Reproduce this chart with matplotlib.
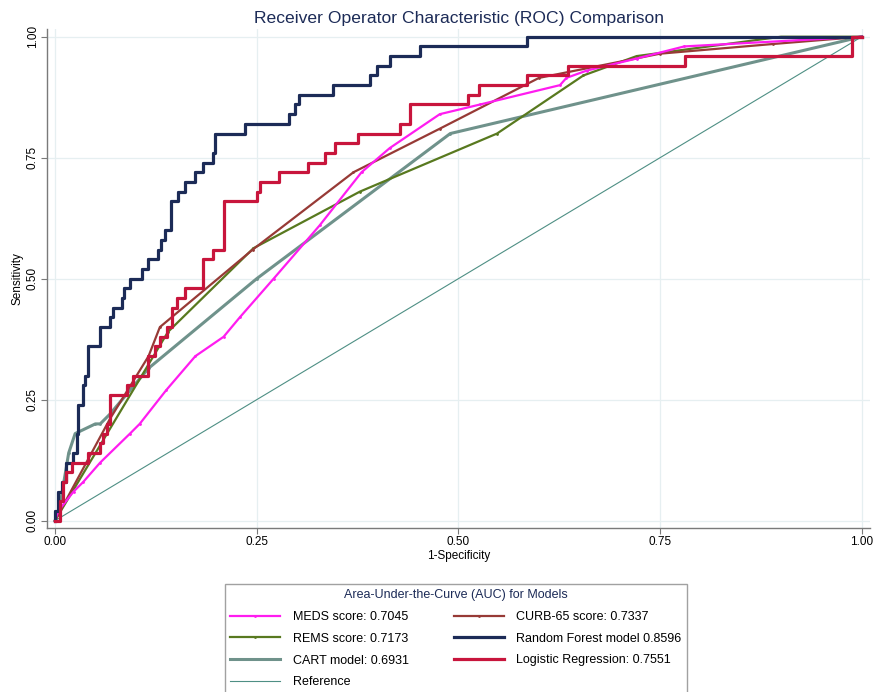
import matplotlib
matplotlib.use("Agg")
import matplotlib.pyplot as plt

plt.rcParams['font.family'] = ['Liberation Sans', 'DejaVu Sans']

# ROC points (1-specificity, sensitivity)
meds_fpr = [0, 0.004, 0.023, 0.035, 0.056, 0.093, 0.105, 0.138, 0.174, 0.209, 0.229, 0.271,
            0.328, 0.38, 0.415, 0.477, 0.527, 0.626, 0.634, 0.659, 0.721, 0.78, 1.0]
meds_tpr = [0, 0.02, 0.06, 0.08, 0.12, 0.18, 0.20, 0.27, 0.34, 0.38, 0.42, 0.50,
            0.61, 0.72, 0.77, 0.84, 0.86, 0.90, 0.915, 0.93, 0.955, 0.98, 1.0]

curb_fpr = [0, 0.068, 0.116, 0.13, 0.245, 0.37, 0.477, 0.60, 0.75, 0.89, 1.0]
curb_tpr = [0, 0.21, 0.34, 0.40, 0.56, 0.72, 0.81, 0.915, 0.965, 0.985, 1.0]

rems_fpr = [0, 0.14, 0.246, 0.378, 0.548, 0.655, 0.721, 0.90, 1.0]
rems_tpr = [0, 0.39, 0.563, 0.68, 0.80, 0.92, 0.96, 1.0, 1.0]

cart_fpr = [0, 0.005, 0.017, 0.025, 0.05, 0.056, 0.068, 0.116, 0.25, 0.49, 1.0]
cart_tpr = [0, 0.02, 0.14, 0.18, 0.20, 0.20, 0.22, 0.315, 0.50, 0.80, 1.0]

# step curves: x where each sensitivity level starts
rf_fpr = [0, 0, 0.004, 0.009, 0.014, 0.022, 0.027, 0.029, 0.035, 0.037, 0.041, 0.056,
          0.068, 0.072, 0.083, 0.085, 0.093, 0.108, 0.115, 0.128, 0.132, 0.136, 0.144,
          0.152, 0.161, 0.173, 0.183, 0.196, 0.198, 0.236, 0.290, 0.297, 0.302, 0.345,
          0.390, 0.399, 0.415, 0.453, 0.585, 1.0]
rf_tpr = [0, 0.02, 0.06, 0.08, 0.12, 0.14, 0.18, 0.24, 0.28, 0.30, 0.36, 0.40,
          0.42, 0.44, 0.46, 0.48, 0.50, 0.52, 0.54, 0.56, 0.58, 0.60, 0.66,
          0.68, 0.70, 0.72, 0.74, 0.76, 0.80, 0.82, 0.84, 0.86, 0.88, 0.90,
          0.92, 0.94, 0.96, 0.98, 1.00, 1.00]

lr_fpr = [0, 0.006, 0.010, 0.014, 0.021, 0.041, 0.056, 0.060, 0.064, 0.068, 0.089, 0.097,
          0.115, 0.124, 0.130, 0.139, 0.145, 0.151, 0.161, 0.184, 0.196, 0.209, 0.250,
          0.254, 0.278, 0.314, 0.335, 0.347, 0.376, 0.428, 0.440, 0.512, 0.526, 0.585,
          0.636, 0.781, 0.988, 1.0]
lr_tpr = [0, 0.04, 0.08, 0.10, 0.12, 0.14, 0.16, 0.18, 0.20, 0.26, 0.28, 0.30,
          0.34, 0.36, 0.38, 0.40, 0.44, 0.46, 0.48, 0.54, 0.56, 0.66, 0.68,
          0.70, 0.72, 0.74, 0.76, 0.78, 0.80, 0.82, 0.86, 0.88, 0.90, 0.92,
          0.94, 0.96, 1.00, 1.00]

ticks = [0, 0.25, 0.5, 0.75, 1.0]
tick_labels = ['0.00', '0.25', '0.50', '0.75', '1.00']

navy = '#1c2b57'

fig = plt.figure(figsize=(8.75, 6.92), dpi=100)
ax = fig.add_axes([47 / 875, 1 - 528 / 692, (870 - 47) / 875, (528 - 29) / 692])

ax.plot([0, 1], [0, 1], color='#4e8f84', lw=0.8, label='Reference', zorder=2)
ax.plot(cart_fpr, cart_tpr, color='#6f928b', lw=2.2, marker='.', ms=2, label='CART model: 0.6931', zorder=3)
ax.plot(rems_fpr, rems_tpr, color='#58791f', lw=1.6, marker='.', ms=2, label='REMS score: 0.7173', zorder=4)
ax.plot(curb_fpr, curb_tpr, color='#973a36', lw=1.6, marker='.', ms=2, label='CURB-65 score: 0.7337', zorder=4)
ax.plot(meds_fpr, meds_tpr, color='#ff1cf0', lw=1.6, marker='.', ms=2, label='MEDS score: 0.7045', zorder=5)
ax.plot(rf_fpr, rf_tpr, color=navy, lw=2.3, drawstyle='steps-post', marker='.', ms=2,
        label='Random Forest model 0.8596', zorder=6)
ax.plot(lr_fpr, lr_tpr, color='#c8153c', lw=2.3, drawstyle='steps-post', marker='.', ms=2,
        label='Logistic Regression: 0.7551', zorder=6)

ax.set_xlim(-0.0099, 1.0103)
ax.set_ylim(-0.0151, 1.016)
ax.set_xticks(ticks)
ax.set_xticklabels(tick_labels)
ax.set_yticks(ticks)
ax.set_yticklabels(tick_labels, rotation=90, va='center')
ax.grid(True, color='#e6eff1', lw=0.9)
ax.set_axisbelow(True)
for s in ['top', 'right']:
    ax.spines[s].set_visible(False)
for s in ['left', 'bottom']:
    ax.spines[s].set_color('#7a7a7a')
    ax.spines[s].set_linewidth(1.0)
ax.tick_params(length=4, width=0.8, color='#7a7a7a', labelsize=8.5, pad=2)
ax.set_xlabel('1-Specificity', fontsize=8.5, labelpad=1)
ax.set_ylabel('Sensitivity', fontsize=8.5, labelpad=2)
ax.set_title('Receiver Operator Characteristic (ROC) Comparison', fontsize=12.6, color=navy, pad=4)

handles, labels = ax.get_legend_handles_labels()
order = ['MEDS score: 0.7045', 'REMS score: 0.7173', 'CART model: 0.6931', 'Reference',
         'CURB-65 score: 0.7337', 'Random Forest model 0.8596', 'Logistic Regression: 0.7551']
hmap = dict(zip(labels, handles))
leg = fig.legend([hmap[k] for k in order], order, ncol=2, loc='upper left',
                 bbox_to_anchor=(225 / 875, 1 - 584 / 692), fontsize=9,
                 title='Area-Under-the-Curve (AUC) for Models', title_fontsize=9,
                 frameon=True, fancybox=False, edgecolor='#8a8a8a', handlelength=4.0,
                 handletextpad=1.0, columnspacing=3.6, labelspacing=0.78, borderpad=0.42,
                 borderaxespad=0)
leg.get_title().set_color(navy)
leg.get_frame().set_linewidth(1.0)

fig.savefig('out.png', dpi=100)
